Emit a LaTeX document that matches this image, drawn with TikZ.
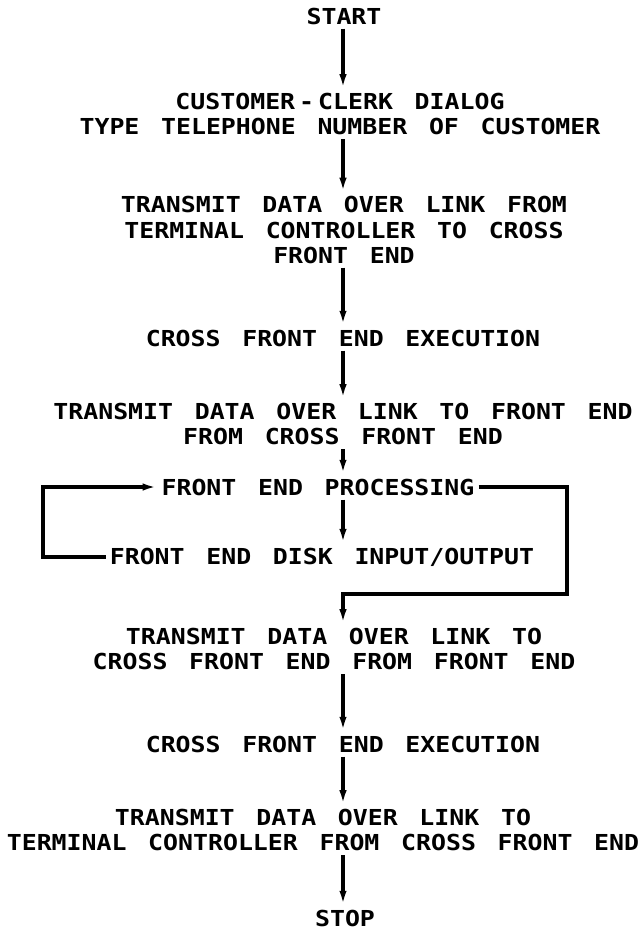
\documentclass[tikz,border=0pt]{standalone}
\usepackage{fontspec}
\setmonofont{DejaVu Sans Mono}[FakeStretch=1.13, WordSpace=1.45]
\usetikzlibrary{arrows.meta}
\newcommand{\lettering}{\ttfamily\bfseries\fontsize{16.5}{18.8}\selectfont}

\begin{document}
\begin{tikzpicture}[
    x=0.75pt, y=-0.75pt,
    >={Latex[black, length=11pt, width=5.5pt]},
    stepnode/.style={align=center, inner sep=3pt, font=\lettering},
    flow/.style={->, line width=2.3pt},
  ]
  \useasboundingbox (0,0) rectangle (641,935);
  \node[stepnode] (start) at (344,16) {START};
  \node[stepnode] (dialog) at (340,114) {CUSTOMER\kern3pt-\kern3pt CLERK DIALOG\\TYPE TELEPHONE NUMBER OF CUSTOMER};
  \node[stepnode] (xmit1) at (344,230) {TRANSMIT DATA OVER LINK FROM\\TERMINAL CONTROLLER TO CROSS\\FRONT END};
  \node[stepnode] (cfe1) at (343,338) {CROSS FRONT END EXECUTION};
  \node[stepnode] (xmit2) at (343,424) {TRANSMIT DATA OVER LINK TO FRONT END\\FROM CROSS FRONT END};
  \node[stepnode] (fep) at (318,487) {FRONT END PROCESSING};
  \node[stepnode] (disk) at (322,557) {FRONT END DISK INPUT/OUTPUT};
  \node[stepnode] (xmit3) at (334,649) {TRANSMIT DATA OVER LINK TO\\CROSS FRONT END FROM FRONT END};
  \node[stepnode] (cfe2) at (343,744) {CROSS FRONT END EXECUTION};
  \node[stepnode] (xmit4) at (323,830) {TRANSMIT DATA OVER LINK TO\\TERMINAL CONTROLLER FROM CROSS FRONT END};
  \node[stepnode] (stop) at (345,918) {STOP};
  \coordinate (loopL) at (43,520);
  \coordinate (loopR) at (567,594);

  \draw[flow] (start.south -| cfe1) -- (dialog.north -| cfe1);
  \draw[flow] (dialog.south -| cfe1) -- (xmit1.north -| cfe1);
  \draw[flow] (xmit1.south -| cfe1) -- (cfe1);
  \draw[flow] (cfe1) -- (xmit2);
  \draw[flow] (xmit2) -- (xmit2 |- fep.north);
  \draw[flow] (fep.south -| xmit2) -- (disk.north -| xmit2);
  \draw[flow] (disk.west) -| (loopL) |- (fep.west);
  \draw[flow] (fep.east) -| (loopR) -| (xmit3.north -| cfe1);
  \draw[flow] (xmit3.south -| cfe1) -- (cfe2);
  \draw[flow] (cfe2) -- (cfe2 |- xmit4.north);
  \draw[flow] (xmit4.south -| cfe1) -- (stop.north -| cfe1);
\end{tikzpicture}
\end{document}
